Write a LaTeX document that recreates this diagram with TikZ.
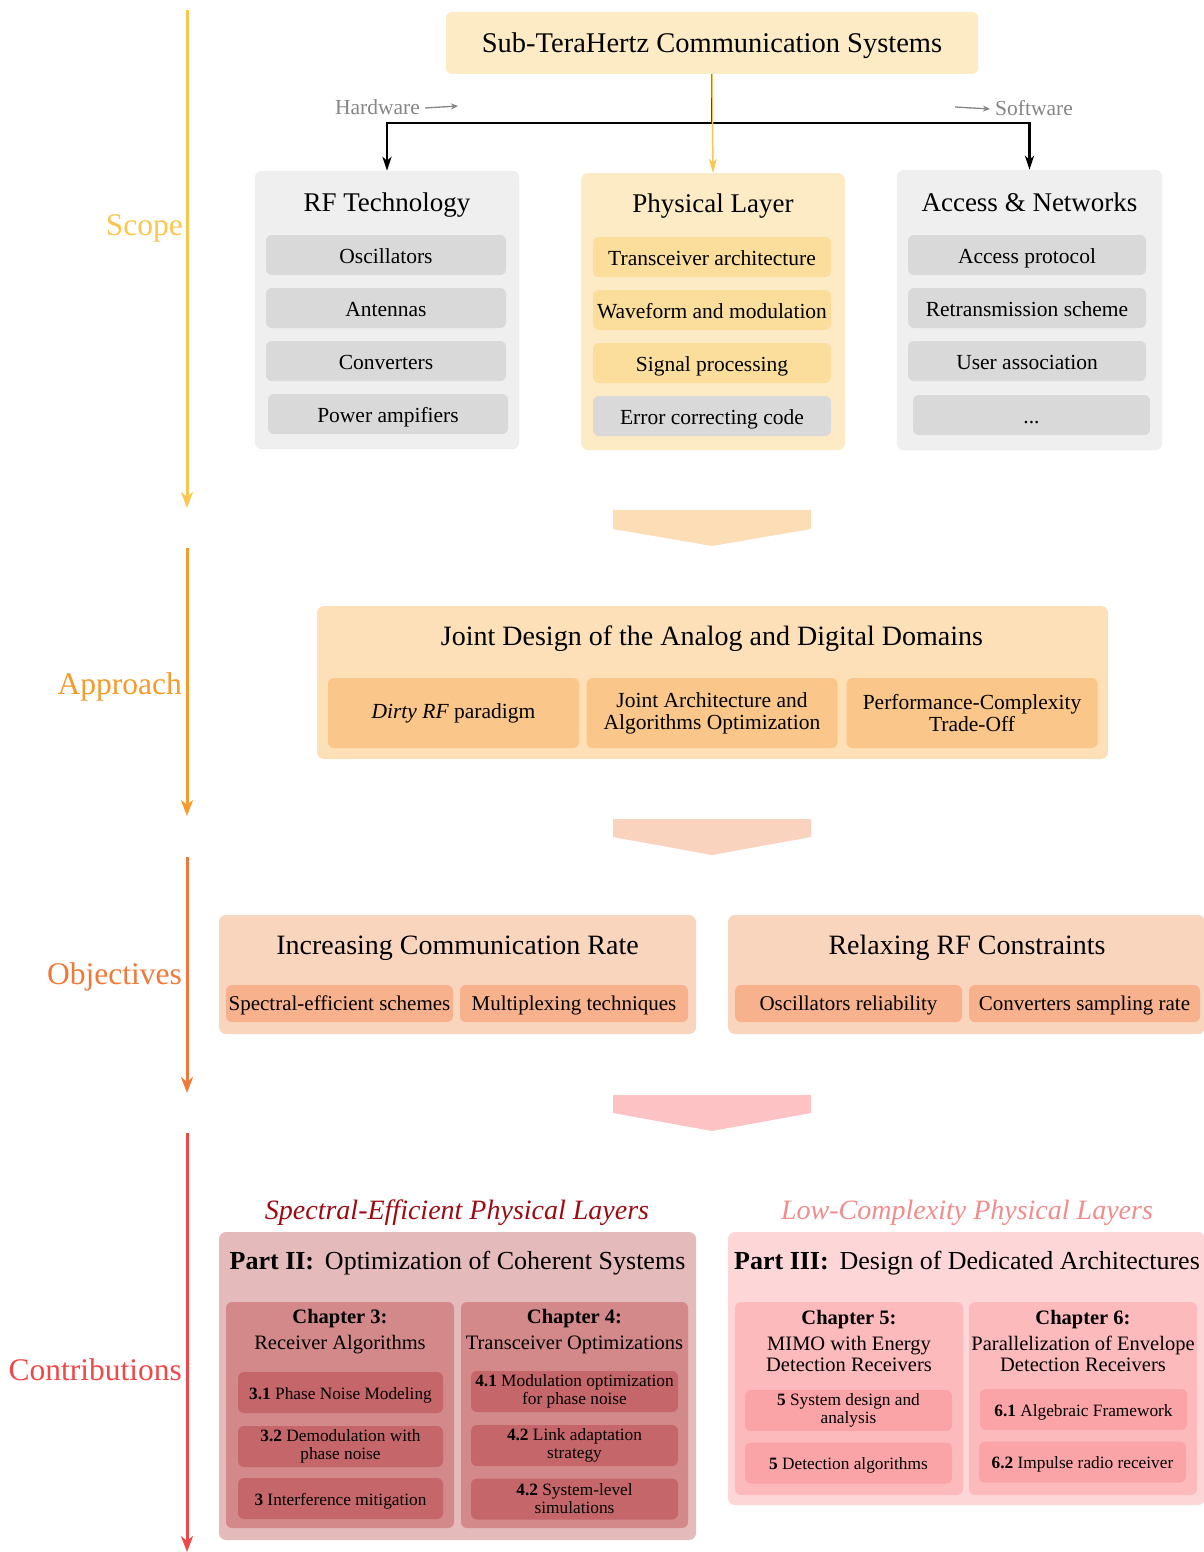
\documentclass[tikz,border=0pt]{standalone}
\usepackage{fontspec}
\setmainfont{Liberation Serif}
\usetikzlibrary{arrows.meta,calc}
\definecolor{topY}{HTML}{FDEBC6}
\definecolor{grayC}{HTML}{EFEFEF}
\definecolor{grayI}{HTML}{D9D9D9}
\definecolor{yelI}{HTML}{FBDE9C}
\definecolor{scopeC}{HTML}{F9C64F}
\definecolor{apprC}{HTML}{F79A2A}
\definecolor{objC}{HTML}{F07838}
\definecolor{contC}{HTML}{F04848}
\definecolor{chevA}{HTML}{FCDDB6}
\definecolor{apprBox}{HTML}{FDDFB8}
\definecolor{apprI}{HTML}{FAC68A}
\definecolor{chevB}{HTML}{F9D3BD}
\definecolor{objBox}{HTML}{F9D5BE}
\definecolor{objI}{HTML}{F7B18D}
\definecolor{chevC}{HTML}{FCC2C4}
\definecolor{pIIBox}{HTML}{E4BABB}
\definecolor{pIICh}{HTML}{D3898A}
\definecolor{pIII}{HTML}{C5676A}
\definecolor{pIIIBox}{HTML}{FDD6D8}
\definecolor{pIIICh}{HTML}{FDBABD}
\definecolor{pIIII}{HTML}{FBA4A8}
\definecolor{hdrL}{HTML}{9E0A12}
\definecolor{hdrR}{HTML}{F28C8C}
\definecolor{hwC}{HTML}{858585}
\newcommand{\fsz}[2]{\fontsize{#1}{#2}\selectfont}
\begin{document}
\begin{tikzpicture}[x=1pt,y=-1pt,
  box/.style={rounded corners=6pt, inner sep=0pt, align=center, text=black},
  cont/.style={box, rounded corners=7pt},
  ttl/.style={inner sep=0pt, align=center, font=\fsz{27}{28}},
  itm/.style={box, font=\fsz{21.5}{22}, minimum height=40, text height=18pt, text depth=2pt},
  oitm/.style={box, fill=objI, minimum height=37, font=\fsz{21}{22}, text height=17pt, text depth=3pt},
  side/.style={anchor=east, inner sep=0pt, font=\fsz{31.5}{32}},
  vtl/.style={line width=3pt, -{Stealth[length=16pt,width=12pt,inset=5pt]}},
  blk/.style={line width=2.5pt, black, -{Stealth[length=14pt,width=9pt,inset=4pt]}},
  yelarr/.style={line width=1.5pt, scopeC, -{Stealth[length=14pt,width=8pt,inset=4pt]}},
  chapt/.style={inner sep=0pt, align=center, font=\fsz{20.5}{21}},
  citm/.style={box, font=\fsz{17.3}{18}, minimum height=41, align=center},
  citm1/.style={citm, text height=14pt, text depth=1pt}
]
\useasboundingbox (0,0) rectangle (1203,1552);

% ---------- side arrows ----------
\coordinate (sA) at (187,10);   \coordinate (sB) at (187,508);
\coordinate (aA) at (187,548);  \coordinate (aB) at (187,816);
\coordinate (oA) at (187,857);  \coordinate (oB) at (187,1093);
\coordinate (cA) at (187,1133); \coordinate (cB) at (187,1552);
\draw[vtl, scopeC] (sA) -- (sB);
\draw[vtl, apprC] (aA) -- (aB);
\draw[vtl, objC] (oA) -- (oB);
\draw[vtl, contC] (cA) -- (cB);
\node[side, text=scopeC] (lscope) at (183,228) {Scope};
\node[side, text=apprC] (lappr) at (182,687) {Approach};
\node[side, text=objC] (lobj) at (182,977) {Objectives};
\node[side, text=contC] (lcont) at (182,1370) {Contributions};

% ---------- scope ----------
\node[box, fill=topY, minimum width=532, minimum height=62, font=\fsz{28.5}{29}, text height=23pt, text depth=3pt] (top) at (712,43) {Sub-TeraHertz Communication Systems};

\node[cont, fill=grayC, draw=black!7, minimum width=264, minimum height=278] (rf) at (387,310) {};
\node[cont, fill=topY, minimum width=264, minimum height=277] (phy) at (713,311.5) {};
\node[cont, fill=grayC, draw=black!7, minimum width=265, minimum height=280] (an) at (1029.5,310) {};

\node[ttl] (rft) at (387,205) {RF Technology};
\node[ttl] (phyt) at (713,206) {Physical Layer};
\node[ttl] (ant) at (1029.5,202) {Access \& Networks};

\node[itm, fill=grayI, minimum width=240] (osc) at (386,255) {Oscillators};
\node[itm, fill=grayI, minimum width=240] (antn) at (386,308) {Antennas};
\node[itm, fill=grayI, minimum width=240] (conv) at (386,361) {Converters};
\node[itm, fill=grayI, minimum width=240] (pa) at (388,414) {Power ampifiers};

\node[itm, fill=yelI, minimum width=238] (trx) at (712,257) {Transceiver architecture};
\node[itm, fill=yelI, minimum width=238] (wav) at (712,310) {Waveform and modulation};
\node[itm, fill=yelI, minimum width=238] (sig) at (712,363) {Signal processing};
\node[itm, fill=grayI, minimum width=238] (ecc) at (712,416) {Error correcting code};

\node[itm, fill=grayI, minimum width=238] (acc) at (1027,255) {Access protocol};
\node[itm, fill=grayI, minimum width=238] (ret) at (1027,308) {Retransmission scheme};
\node[itm, fill=grayI, minimum width=238] (usr) at (1027,361) {User association};
\node[itm, fill=grayI, minimum width=237] (dots) at (1031.5,415) {...};

\coordinate (split) at (712,123);
\draw[blk] (top.south) -- (split) -| (rf.north);
\draw[blk] (split) -| (an.north);
\draw[yelarr] (top.south) -- (phy.north);

\node[inner sep=0pt, anchor=east, text=hwC, font=\fsz{21.5}{22}] (hw) at (420,107) {Hardware};
\coordinate (hwE) at (458,106);
\draw[hwC, line width=1.3pt, -{Stealth[length=7pt,width=6pt]}] ([xshift=5pt,yshift=-1pt]hw.east) -- (hwE);
\node[inner sep=0pt, anchor=west, text=hwC, font=\fsz{21.5}{22}] (sw) at (995,108) {Software};
\coordinate (swS) at (955,107);
\draw[hwC, line width=1.3pt, -{Stealth[length=7pt,width=6pt]}] (swS) -- ([xshift=-5pt,yshift=-1pt]sw.west);

% ---------- chevrons ----------
\fill[chevA] (613,510) -- (811,510) -- (811,529) -- (712,546) -- (613,529) -- cycle;
\fill[chevB] (613,819) -- (811,819) -- (811,837) -- (712,855) -- (613,837) -- cycle;
\fill[chevC] (613,1095) -- (811,1095) -- (811,1113) -- (712,1131) -- (613,1113) -- cycle;

% ---------- approach ----------
\node[cont, fill=apprBox, minimum width=791, minimum height=153] (appr) at (712.5,682.5) {};
\node[ttl, font=\fsz{28}{29}] (apprt) at (712,639) {Joint Design of the Analog and Digital Domains};
\node[box, fill=apprI, minimum width=251, minimum height=70, font=\fsz{21.5}{22}] (dirty) at (453.5,713) {\textit{Dirty RF} paradigm};
\node[box, fill=apprI, minimum width=251, minimum height=70, font=\fsz{21.5}{22}] (jaa) at (712,713) {Joint Architecture and\\Algorithms Optimization};
\node[box, fill=apprI, minimum width=251, minimum height=70, font=\fsz{21.5}{22}] (pct) at (972,713) {Performance-Complexity\\Trade-Off};

% ---------- objectives ----------
\node[cont, fill=objBox, minimum width=477, minimum height=119] (objL) at (457.5,974.5) {};
\node[cont, fill=objBox, minimum width=477, minimum height=119] (objR) at (966.5,974.5) {};
\node[ttl, font=\fsz{28}{29}] (objLt) at (457.5,948) {Increasing Communication Rate};
\node[ttl, font=\fsz{28}{29}] (objRt) at (967,948) {Relaxing RF Constraints};
\node[oitm, minimum width=227] (spe) at (339.5,1003.5) {Spectral-efficient schemes};
\node[oitm, minimum width=228] (mux) at (574,1003.5) {Multiplexing techniques};
\node[oitm, minimum width=227] (oscr) at (848.5,1003.5) {Oscillators reliability};
\node[oitm, minimum width=231] (csr) at (1084.5,1003.5) {Converters sampling rate};

% ---------- contributions ----------
\node[inner sep=0pt, text=hdrL, font=\fsz{28}{29}\itshape] (hL) at (457,1213) {Spectral-Efficient Physical Layers};
\node[inner sep=0pt, text=hdrR, font=\fsz{28}{29}\itshape] (hR) at (967,1213) {Low-Complexity Physical Layers};

\node[cont, fill=pIIBox, minimum width=477, minimum height=308] (p2) at (457.5,1386) {};
\node[cont, fill=pIIIBox, minimum width=477, minimum height=273] (p3) at (966.5,1368.5) {};
\node[ttl, font=\fsz{26}{27}] (p2t) at (457.5,1263) {\textbf{Part II:}\, Optimization of Coherent Systems};
\node[ttl, font=\fsz{26}{27}] (p3t) at (967,1263) {\textbf{Part III:}\, Design of Dedicated Architectures};

\node[box, fill=pIICh, minimum width=228, minimum height=226] (ch3) at (340,1415) {};
\node[box, fill=pIICh, minimum width=227, minimum height=226] (ch4) at (574.5,1415) {};
\node[box, fill=pIIICh, minimum width=228, minimum height=193] (ch5) at (849,1398.5) {};
\node[box, fill=pIIICh, minimum width=228, minimum height=193] (ch6) at (1083,1398.5) {};

\node[chapt] (ch3t) at (340,1332) {\textbf{Chapter 3:}\\[5pt]Receiver Algorithms};
\node[chapt] (ch4t) at (574.5,1332) {\textbf{Chapter 4:}\\[5pt]Transceiver Optimizations};
\node[chapt] (ch5t) at (849,1341) {\textbf{Chapter 5:}\\[5pt]MIMO with Energy\\Detection Receivers};
\node[chapt] (ch6t) at (1083,1341) {\textbf{Chapter 6:}\\[5pt]Parallelization of Envelope\\Detection Receivers};

\node[citm1, fill=pIII, minimum width=205] (c31) at (340.5,1392.5) {\textbf{3.1} Phase Noise Modeling};
\node[citm, fill=pIII, minimum width=205] (c32) at (340.5,1446.5) {\textbf{3.2} Demodulation with\\phase noise};
\node[citm1, fill=pIII, minimum width=205] (c33) at (340.5,1498.5) {\textbf{3} Interference mitigation};
\node[citm, fill=pIII, minimum width=207] (c41) at (574.5,1391.5) {\textbf{4.1} Modulation optimization\\for phase noise};
\node[citm, fill=pIII, minimum width=207] (c42) at (574.5,1445.5) {\textbf{4.2} Link adaptation\\strategy};
\node[citm, fill=pIII, minimum width=207] (c43) at (574.5,1499) {\textbf{4.2} System-level\\simulations};

\node[citm, fill=pIIII, minimum width=207] (c51) at (848.5,1410.5) {\textbf{5} System design and\\analysis};
\node[citm1, fill=pIIII, minimum width=207] (c52) at (848.5,1463) {\textbf{5} Detection algorithms};
\node[citm1, fill=pIIII, minimum width=207] (c61) at (1083.5,1409.5) {\textbf{6.1} Algebraic Framework};
\node[citm1, fill=pIIII, minimum width=207] (c62) at (1082.5,1462) {\textbf{6.2} Impulse radio receiver};
\end{tikzpicture}
\end{document}
